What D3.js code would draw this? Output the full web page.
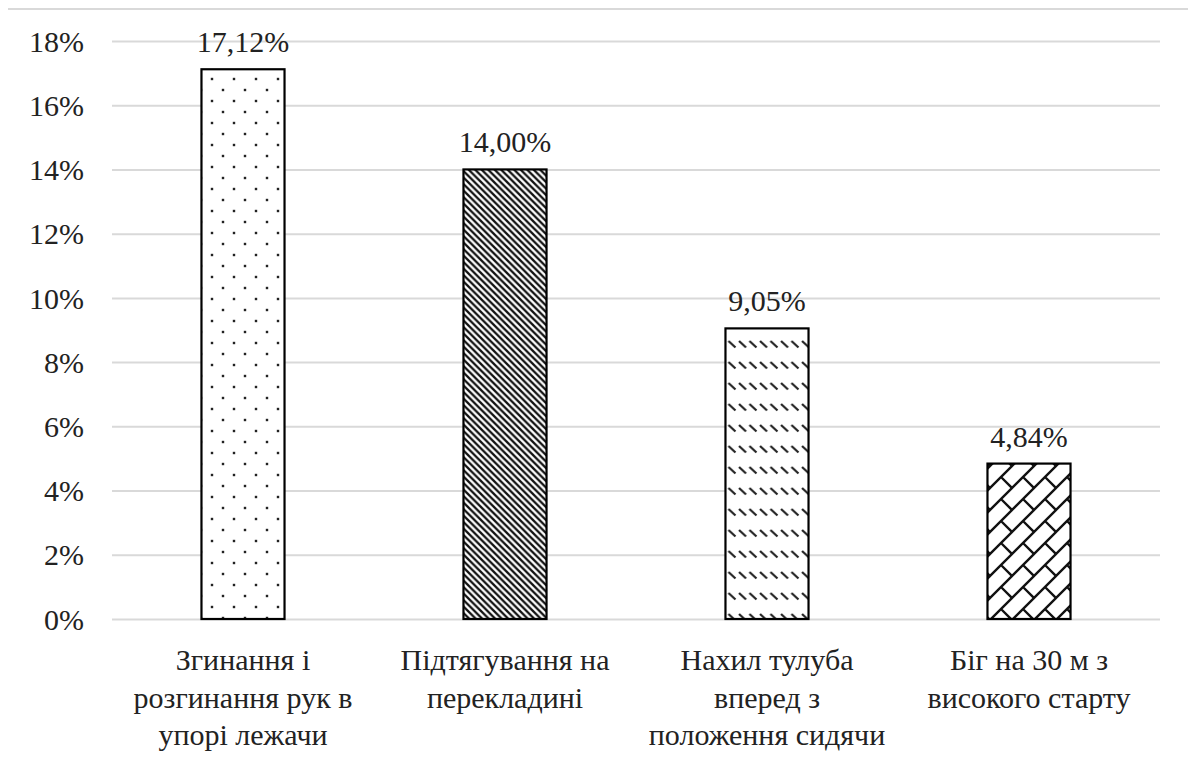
<!DOCTYPE html>
<html><head><meta charset="utf-8">
<script src="https://cdn.jsdelivr.net/npm/d3@7"></script>
<style>html,body{margin:0;padding:0;background:#fff;}</style>
</head><body>
<script>
const categories = [
  ["Згинання і", "розгинання рук в", "упорі лежачи"],
  ["Підтягування на", "перекладині"],
  ["Нахил тулуба", "вперед з", "положення сидячи"],
  ["Біг на 30 м з", "високого старту"]
];
const values = [17.12, 14.00, 9.05, 4.84];
const valueLabels = ["17,12%", "14,00%", "9,05%", "4,84%"];
const yTicks = [0, 2, 4, 6, 8, 10, 12, 14, 16, 18];
const patterns = ["dots", "diag", "dashdiag", "brick"];

const W = 1188, H = 765;
const FONT = '"Liberation Serif", "Times New Roman", Tinos, serif';
function serif(sel) {
  return sel.style("font-family", FONT, "important").style("font-size", "30px", "important");
}
const svg = d3.select("body").append("svg").attr("width", W).attr("height", H)
  .style("display", "block");

const defs = svg.append("defs");
// dots
{
  const p = defs.append("pattern").attr("id", "dots").attr("patternUnits", "userSpaceOnUse")
    .attr("width", 22).attr("height", 22).attr("x", 3).attr("y", 2);
  p.append("rect").attr("width", 22).attr("height", 22).attr("fill", "#fff");
  [[0,0],[22,0],[0,22],[22,22],[11,11]].forEach(([x,y]) =>
    p.append("rect").attr("x", x-1.2).attr("y", y-1.2).attr("width", 2.4).attr("height", 2.4).attr("fill", "#222"));
}
// dense downward diagonal
{
  const s = 6.5;
  const p = defs.append("pattern").attr("id", "diag").attr("patternUnits", "userSpaceOnUse")
    .attr("width", s).attr("height", s);
  p.append("rect").attr("width", s).attr("height", s).attr("fill", "#fff");
  p.append("path").attr("d", `M${-s},0L${s},${2*s}M0,${-s}L${2*s},${s}M${-s},${-s}L${2*s},${2*s}`)
    .attr("stroke", "#111").attr("stroke-width", 2.3);
}
// dashed downward diagonal
{
  const p = defs.append("pattern").attr("id", "dashdiag").attr("patternUnits", "userSpaceOnUse")
    .attr("width", 10.5).attr("height", 21).attr("x", 2).attr("y", 4);
  p.append("rect").attr("width", 10.5).attr("height", 21).attr("fill", "#fff");
  p.append("path").attr("d", "M2,1L9,7.5").attr("stroke", "#222").attr("stroke-width", 2.2);
}
// diagonal brick
{
  const s = 22;
  const p = defs.append("pattern").attr("id", "brick").attr("patternUnits", "userSpaceOnUse")
    .attr("width", s).attr("height", s).attr("x", 0).attr("y", 4);
  p.append("rect").attr("width", s).attr("height", s).attr("fill", "#fff");
  p.append("path").attr("d", `M-2,${s+2}L${s+2},-2M${s/2},${s/2}L${s},${s}M${-s/2},${s/2}L0,${s}`)
    .attr("stroke", "#111").attr("stroke-width", 2.4);
  p.append("path").attr("d", `M${s-2},${s+2}L${s+2},${s-2}M-2,2L2,-2`).attr("stroke", "#111").attr("stroke-width", 2.4);
}

const x = d3.scaleBand().domain(d3.range(categories.length)).range([112, 1160]).padding(0);
const y = d3.scaleLinear().domain([0, 18]).range([619, 41]);
const barW = x.bandwidth() * 0.317;

// top border line
svg.append("line").attr("x1", 8).attr("x2", W).attr("y1", 9).attr("y2", 9)
  .attr("stroke", "#d9d9d9").attr("stroke-width", 2);

// gridlines
const gy = svg.append("g").attr("transform", "translate(112,0)")
  .call(d3.axisLeft(y).tickValues(yTicks).tickSize(-(1160 - 112)).tickFormat(""));
gy.select(".domain").remove();
gy.selectAll(".tick line").attr("stroke", "#d9d9d9").attr("stroke-width", 2);

// y labels
const gl = svg.append("g").attr("transform", "translate(84,0)")
  .call(d3.axisLeft(y).tickValues(yTicks).tickSize(0).tickPadding(0).tickFormat(d => d + "%"));
serif(gl);
gl.select(".domain").remove();
serif(gl.selectAll("text")).attr("fill", "#222").attr("dy", "0.34em");

// bars
svg.selectAll("rect.bar").data(values).join("rect").attr("class", "bar")
  .attr("x", (d, i) => x(i) + x.bandwidth()/2 - barW/2)
  .attr("width", barW)
  .attr("y", d => y(d))
  .attr("height", d => y(0) - y(d))
  .attr("fill", (d, i) => `url(#${patterns[i]})`)
  .attr("stroke", "#000").attr("stroke-width", 2.2);

// value labels
serif(svg.selectAll("text.val").data(values).join("text").attr("class", "val")
  .attr("x", (d, i) => x(i) + x.bandwidth()/2)
  .attr("y", d => y(d) - 17)
  .attr("text-anchor", "middle")
  .attr("fill", "#222")
  .text((d, i) => valueLabels[i]));

// category labels
const cg = svg.append("g").attr("transform", "translate(0,619)")
  .call(d3.axisBottom(x).tickSize(0).tickFormat(""));
serif(cg);
cg.select(".domain").remove();
cg.selectAll(".tick").each(function(d, i) {
  const t = serif(d3.select(this).append("text"))
    .attr("text-anchor", "middle").attr("fill", "#222");
  categories[i].forEach((line, k) => {
    serif(t.append("tspan").attr("x", 0).attr("y", 51 + k * 37.5).text(line));
  });
});
</script>
</body></html>
